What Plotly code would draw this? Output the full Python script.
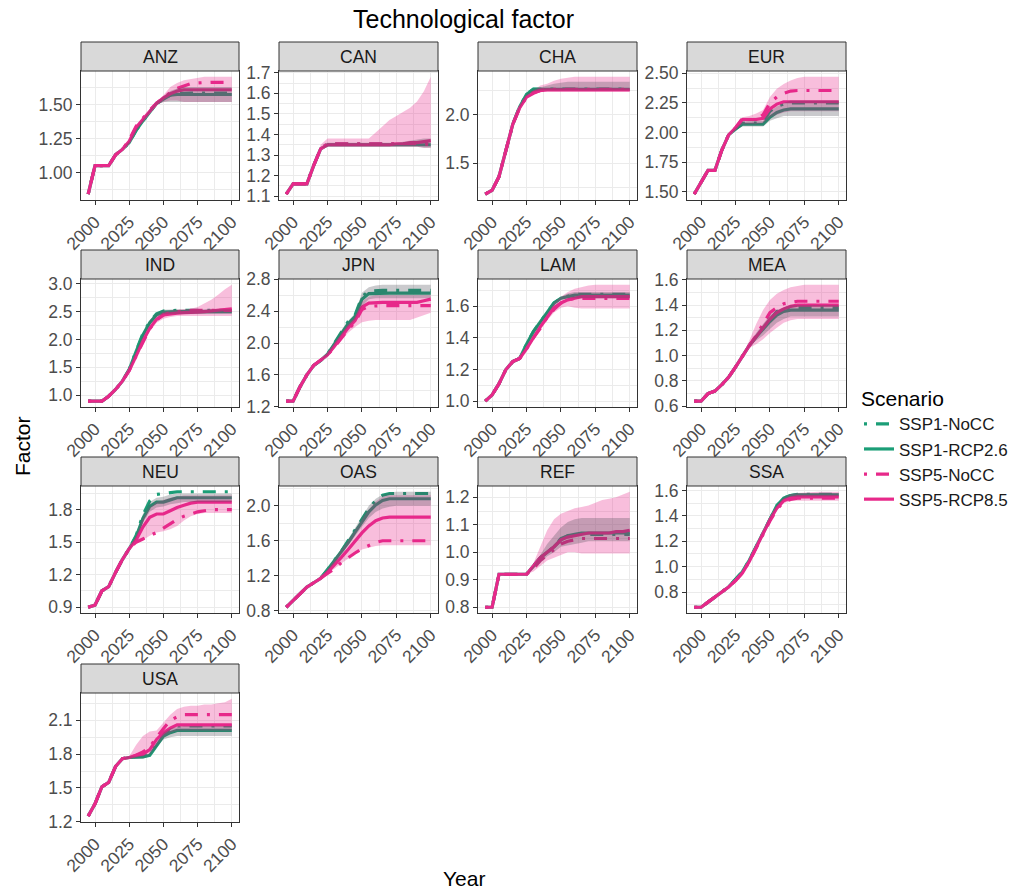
import plotly.graph_objects as go

YEARS = [1995, 2000, 2005, 2010, 2015, 2020, 2025, 2030, 2035, 2040, 2045,
         2050, 2055, 2060, 2065, 2070, 2075, 2080, 2085, 2090, 2095, 2100]
REGIONS = ["ANZ", "CAN", "CHA", "EUR", "IND", "JPN", "LAM", "MEA",
           "NEU", "OAS", "REF", "SSA", "USA"]
SCENARIOS = ["SSP1-NoCC", "SSP1-RCP2.6", "SSP5-NoCC", "SSP5-RCP8.5"]

# ---------------- ANZ ----------------
ANZ_SSP1_NoCC = [0.84, 1.05, 1.05, 1.05, 1.13, 1.17, 1.22, 1.31, 1.38, 1.45, 1.51, 1.54, 1.57, 1.58, 1.585, 1.585, 1.585, 1.585, 1.585, 1.585, 1.585, 1.585]
ANZ_SSP1_RCP26 = [0.84, 1.05, 1.05, 1.05, 1.13, 1.17, 1.22, 1.31, 1.38, 1.45, 1.51, 1.54, 1.57, 1.575, 1.575, 1.575, 1.575, 1.575, 1.575, 1.575, 1.575, 1.575]
ANZ_SSP5_NoCC = [0.84, 1.05, 1.05, 1.05, 1.13, 1.17, 1.24, 1.34, 1.40, 1.46, 1.51, 1.55, 1.59, 1.62, 1.64, 1.655, 1.66, 1.665, 1.665, 1.665, 1.665, 1.665]
ANZ_SSP5_RCP85 = [0.84, 1.05, 1.05, 1.05, 1.13, 1.17, 1.23, 1.33, 1.39, 1.45, 1.51, 1.55, 1.58, 1.60, 1.61, 1.61, 1.61, 1.61, 1.61, 1.61, 1.61, 1.61]
ANZ_SSP1_LO = [0.84, 1.05, 1.05, 1.05, 1.13, 1.17, 1.21, 1.30, 1.37, 1.44, 1.50, 1.52, 1.52, 1.52, 1.52, 1.52, 1.52, 1.52, 1.52, 1.52, 1.52, 1.52]
ANZ_SSP1_HI = [0.84, 1.05, 1.05, 1.05, 1.13, 1.17, 1.23, 1.32, 1.39, 1.46, 1.52, 1.56, 1.60, 1.62, 1.63, 1.63, 1.63, 1.63, 1.63, 1.63, 1.63, 1.63]
ANZ_SSP5_LO = [0.84, 1.05, 1.05, 1.05, 1.13, 1.17, 1.22, 1.31, 1.38, 1.44, 1.50, 1.52, 1.53, 1.53, 1.52, 1.52, 1.52, 1.52, 1.52, 1.52, 1.52, 1.52]
ANZ_SSP5_HI = [0.84, 1.05, 1.05, 1.05, 1.13, 1.17, 1.24, 1.35, 1.41, 1.47, 1.52, 1.57, 1.63, 1.66, 1.68, 1.69, 1.70, 1.705, 1.705, 1.705, 1.705, 1.705]
ANZ_TICKS = ["1.00", "1.25", "1.50"]

# ---------------- CAN ----------------
CAN_SSP1_NoCC = [1.11, 1.16, 1.16, 1.16, 1.25, 1.33, 1.355, 1.355, 1.355, 1.355, 1.355, 1.355, 1.355, 1.355, 1.355, 1.355, 1.355, 1.355, 1.355, 1.355, 1.355, 1.355]
CAN_SSP1_RCP26 = [1.11, 1.16, 1.16, 1.16, 1.25, 1.33, 1.35, 1.35, 1.35, 1.35, 1.35, 1.35, 1.35, 1.35, 1.35, 1.35, 1.35, 1.35, 1.35, 1.35, 1.35, 1.35]
CAN_SSP5_NoCC = [1.11, 1.16, 1.16, 1.16, 1.25, 1.33, 1.355, 1.355, 1.355, 1.355, 1.355, 1.355, 1.355, 1.355, 1.355, 1.355, 1.355, 1.355, 1.355, 1.355, 1.355, 1.35]
CAN_SSP5_RCP85 = [1.11, 1.16, 1.16, 1.16, 1.25, 1.33, 1.35, 1.35, 1.35, 1.35, 1.35, 1.35, 1.35, 1.35, 1.35, 1.35, 1.355, 1.355, 1.36, 1.36, 1.365, 1.37]
CAN_SSP1_LO = [1.11, 1.16, 1.16, 1.16, 1.25, 1.33, 1.34, 1.34, 1.34, 1.34, 1.34, 1.34, 1.34, 1.34, 1.34, 1.34, 1.34, 1.34, 1.34, 1.34, 1.335, 1.335]
CAN_SSP1_HI = [1.11, 1.16, 1.16, 1.16, 1.25, 1.33, 1.36, 1.36, 1.36, 1.36, 1.36, 1.36, 1.36, 1.36, 1.36, 1.36, 1.36, 1.365, 1.37, 1.375, 1.38, 1.38]
CAN_SSP5_LO = [1.11, 1.16, 1.16, 1.16, 1.25, 1.33, 1.34, 1.34, 1.34, 1.34, 1.34, 1.34, 1.34, 1.34, 1.34, 1.34, 1.34, 1.34, 1.34, 1.34, 1.335, 1.335]
CAN_SSP5_HI = [1.11, 1.16, 1.16, 1.16, 1.25, 1.35, 1.38, 1.38, 1.38, 1.38, 1.38, 1.38, 1.38, 1.41, 1.44, 1.47, 1.49, 1.51, 1.53, 1.56, 1.61, 1.68]
CAN_TICKS = ["1.1", "1.2", "1.3", "1.4", "1.5", "1.6", "1.7"]

# ---------------- CHA ----------------
CHA_SSP1_NoCC = [1.18, 1.22, 1.36, 1.62, 1.90, 2.08, 2.21, 2.265, 2.265, 2.265, 2.265, 2.265, 2.265, 2.265, 2.265, 2.265, 2.265, 2.265, 2.265, 2.265, 2.265, 2.265]
CHA_SSP1_RCP26 = [1.18, 1.22, 1.36, 1.62, 1.90, 2.08, 2.21, 2.26, 2.26, 2.26, 2.26, 2.26, 2.26, 2.26, 2.26, 2.26, 2.26, 2.26, 2.26, 2.26, 2.26, 2.26]
CHA_SSP5_NoCC = [1.18, 1.22, 1.36, 1.62, 1.90, 2.07, 2.18, 2.23, 2.25, 2.26, 2.26, 2.26, 2.26, 2.26, 2.26, 2.26, 2.26, 2.26, 2.26, 2.26, 2.26, 2.26]
CHA_SSP5_RCP85 = [1.18, 1.22, 1.36, 1.62, 1.90, 2.07, 2.18, 2.22, 2.25, 2.255, 2.255, 2.255, 2.255, 2.255, 2.255, 2.255, 2.255, 2.255, 2.255, 2.255, 2.255, 2.255]
CHA_SSP1_LO = [1.18, 1.22, 1.36, 1.62, 1.90, 2.07, 2.19, 2.24, 2.25, 2.25, 2.25, 2.25, 2.25, 2.25, 2.25, 2.25, 2.25, 2.25, 2.25, 2.25, 2.25, 2.25]
CHA_SSP1_HI = [1.18, 1.22, 1.36, 1.62, 1.90, 2.09, 2.22, 2.27, 2.28, 2.30, 2.32, 2.33, 2.34, 2.34, 2.34, 2.34, 2.34, 2.34, 2.34, 2.34, 2.34, 2.34]
CHA_SSP5_LO = [1.18, 1.22, 1.36, 1.62, 1.90, 2.06, 2.17, 2.21, 2.23, 2.24, 2.24, 2.24, 2.24, 2.24, 2.24, 2.24, 2.24, 2.24, 2.24, 2.24, 2.24, 2.24]
CHA_SSP5_HI = [1.18, 1.22, 1.36, 1.62, 1.90, 2.09, 2.20, 2.25, 2.30, 2.32, 2.35, 2.37, 2.38, 2.39, 2.39, 2.39, 2.39, 2.39, 2.39, 2.39, 2.39, 2.39]
CHA_TICKS = ["1.5", "2.0"]

# ---------------- EUR ----------------
EUR_SSP1_NoCC = [1.48, 1.58, 1.68, 1.68, 1.85, 1.98, 2.03, 2.08, 2.08, 2.08, 2.09, 2.18, 2.22, 2.24, 2.25, 2.25, 2.25, 2.25, 2.25, 2.25, 2.25, 2.25]
EUR_SSP1_RCP26 = [1.48, 1.58, 1.68, 1.68, 1.85, 1.98, 2.03, 2.07, 2.07, 2.07, 2.07, 2.13, 2.17, 2.19, 2.20, 2.20, 2.20, 2.20, 2.20, 2.20, 2.20, 2.20]
EUR_SSP5_NoCC = [1.48, 1.58, 1.68, 1.68, 1.85, 1.98, 2.04, 2.12, 2.11, 2.11, 2.15, 2.25, 2.30, 2.33, 2.35, 2.355, 2.355, 2.355, 2.355, 2.355, 2.355, 2.355]
EUR_SSP5_RCP85 = [1.48, 1.58, 1.68, 1.68, 1.85, 1.98, 2.04, 2.11, 2.11, 2.11, 2.12, 2.20, 2.24, 2.26, 2.26, 2.26, 2.26, 2.26, 2.26, 2.26, 2.26, 2.26]
EUR_SSP1_LO = [1.48, 1.58, 1.68, 1.68, 1.85, 1.98, 2.02, 2.05, 2.05, 2.05, 2.05, 2.10, 2.12, 2.14, 2.14, 2.14, 2.14, 2.14, 2.14, 2.14, 2.14, 2.14]
EUR_SSP1_HI = [1.48, 1.58, 1.68, 1.68, 1.85, 1.98, 2.04, 2.09, 2.10, 2.10, 2.10, 2.18, 2.22, 2.25, 2.27, 2.27, 2.27, 2.27, 2.27, 2.27, 2.27, 2.27]
EUR_SSP5_LO = [1.48, 1.58, 1.68, 1.68, 1.85, 1.98, 2.03, 2.07, 2.07, 2.07, 2.08, 2.13, 2.15, 2.17, 2.18, 2.18, 2.18, 2.18, 2.18, 2.18, 2.18, 2.18]
EUR_SSP5_HI = [1.48, 1.58, 1.68, 1.68, 1.85, 1.98, 2.05, 2.13, 2.14, 2.16, 2.19, 2.30, 2.37, 2.41, 2.44, 2.46, 2.47, 2.47, 2.47, 2.47, 2.47, 2.47]
EUR_TICKS = ["1.50", "1.75", "2.00", "2.25", "2.50"]

# ---------------- IND ----------------
IND_SSP1_NoCC = [0.89, 0.89, 0.89, 0.98, 1.10, 1.25, 1.46, 1.79, 2.10, 2.32, 2.46, 2.51, 2.52, 2.52, 2.52, 2.52, 2.52, 2.52, 2.52, 2.52, 2.52, 2.52]
IND_SSP1_RCP26 = [0.89, 0.89, 0.89, 0.98, 1.10, 1.25, 1.46, 1.78, 2.08, 2.30, 2.44, 2.49, 2.50, 2.50, 2.50, 2.50, 2.50, 2.50, 2.50, 2.50, 2.50, 2.50]
IND_SSP5_NoCC = [0.89, 0.89, 0.89, 0.98, 1.10, 1.25, 1.44, 1.70, 1.96, 2.19, 2.35, 2.44, 2.48, 2.50, 2.51, 2.52, 2.52, 2.52, 2.52, 2.52, 2.52, 2.52]
IND_SSP5_RCP85 = [0.89, 0.89, 0.89, 0.98, 1.10, 1.25, 1.44, 1.70, 1.97, 2.20, 2.36, 2.44, 2.46, 2.47, 2.48, 2.48, 2.49, 2.50, 2.51, 2.52, 2.54, 2.55]
IND_SSP1_LO = [0.89, 0.89, 0.89, 0.98, 1.10, 1.25, 1.44, 1.74, 2.03, 2.26, 2.40, 2.45, 2.46, 2.46, 2.46, 2.46, 2.46, 2.46, 2.46, 2.46, 2.46, 2.46]
IND_SSP1_HI = [0.89, 0.89, 0.89, 0.98, 1.10, 1.25, 1.47, 1.81, 2.12, 2.35, 2.48, 2.53, 2.54, 2.54, 2.54, 2.54, 2.54, 2.54, 2.54, 2.54, 2.54, 2.54]
IND_SSP5_LO = [0.89, 0.89, 0.89, 0.98, 1.10, 1.25, 1.42, 1.66, 1.92, 2.14, 2.30, 2.37, 2.40, 2.42, 2.42, 2.42, 2.42, 2.42, 2.42, 2.42, 2.42, 2.42]
IND_SSP5_HI = [0.89, 0.89, 0.89, 0.98, 1.10, 1.25, 1.46, 1.74, 2.02, 2.26, 2.42, 2.50, 2.52, 2.53, 2.54, 2.55, 2.58, 2.64, 2.71, 2.80, 2.90, 2.98]
IND_TICKS = ["1.0", "1.5", "2.0", "2.5", "3.0"]

# ---------------- JPN ----------------
JPN_SSP1_NoCC = [1.27, 1.27, 1.45, 1.60, 1.72, 1.78, 1.86, 2.00, 2.14, 2.27, 2.35, 2.58, 2.65, 2.66, 2.66, 2.66, 2.66, 2.66, 2.66, 2.66, 2.66, 2.66]
JPN_SSP1_RCP26 = [1.27, 1.27, 1.45, 1.60, 1.72, 1.78, 1.86, 1.99, 2.12, 2.24, 2.33, 2.55, 2.62, 2.625, 2.625, 2.625, 2.625, 2.625, 2.625, 2.625, 2.625, 2.625]
JPN_SSP5_NoCC = [1.27, 1.27, 1.45, 1.60, 1.72, 1.78, 1.85, 1.95, 2.06, 2.17, 2.26, 2.42, 2.46, 2.47, 2.47, 2.47, 2.47, 2.47, 2.47, 2.47, 2.47, 2.47]
JPN_SSP5_RCP85 = [1.27, 1.27, 1.45, 1.60, 1.72, 1.78, 1.85, 1.96, 2.08, 2.19, 2.28, 2.45, 2.50, 2.51, 2.51, 2.51, 2.51, 2.51, 2.51, 2.51, 2.53, 2.55]
JPN_SSP1_LO = [1.27, 1.27, 1.45, 1.60, 1.72, 1.78, 1.84, 1.96, 2.09, 2.20, 2.29, 2.46, 2.55, 2.56, 2.56, 2.56, 2.56, 2.56, 2.56, 2.56, 2.56, 2.56]
JPN_SSP1_HI = [1.27, 1.27, 1.45, 1.60, 1.72, 1.78, 1.88, 2.02, 2.16, 2.28, 2.37, 2.63, 2.70, 2.72, 2.73, 2.73, 2.73, 2.73, 2.73, 2.73, 2.73, 2.73]
JPN_SSP5_LO = [1.27, 1.27, 1.45, 1.60, 1.72, 1.78, 1.83, 1.93, 2.03, 2.13, 2.20, 2.26, 2.28, 2.29, 2.29, 2.29, 2.29, 2.29, 2.29, 2.32, 2.35, 2.38]
JPN_SSP5_HI = [1.27, 1.27, 1.45, 1.60, 1.72, 1.78, 1.87, 1.99, 2.12, 2.24, 2.33, 2.52, 2.58, 2.60, 2.60, 2.60, 2.60, 2.60, 2.60, 2.60, 2.60, 2.60]
JPN_TICKS = ["1.2", "1.6", "2.0", "2.4", "2.8"]

# ---------------- LAM ----------------
LAM_SSP1_NoCC = [1.00, 1.04, 1.11, 1.20, 1.25, 1.27, 1.36, 1.44, 1.50, 1.56, 1.62, 1.65, 1.665, 1.675, 1.675, 1.675, 1.675, 1.675, 1.675, 1.675, 1.675, 1.675]
LAM_SSP1_RCP26 = [1.00, 1.04, 1.11, 1.20, 1.25, 1.27, 1.36, 1.44, 1.50, 1.56, 1.62, 1.65, 1.66, 1.67, 1.67, 1.67, 1.67, 1.67, 1.67, 1.67, 1.67, 1.67]
LAM_SSP5_NoCC = [1.00, 1.04, 1.11, 1.20, 1.25, 1.27, 1.33, 1.40, 1.46, 1.53, 1.58, 1.62, 1.64, 1.65, 1.65, 1.65, 1.65, 1.65, 1.65, 1.65, 1.65, 1.65]
LAM_SSP5_RCP85 = [1.00, 1.04, 1.11, 1.20, 1.25, 1.27, 1.33, 1.40, 1.47, 1.53, 1.59, 1.62, 1.64, 1.65, 1.66, 1.66, 1.66, 1.66, 1.66, 1.66, 1.66, 1.66]
LAM_SSP1_LO = [1.00, 1.04, 1.11, 1.20, 1.25, 1.27, 1.35, 1.43, 1.49, 1.55, 1.61, 1.64, 1.65, 1.65, 1.65, 1.65, 1.65, 1.65, 1.65, 1.65, 1.65, 1.65]
LAM_SSP1_HI = [1.00, 1.04, 1.11, 1.20, 1.25, 1.27, 1.37, 1.45, 1.51, 1.57, 1.63, 1.66, 1.68, 1.69, 1.69, 1.69, 1.69, 1.69, 1.69, 1.69, 1.69, 1.69]
LAM_SSP5_LO = [1.00, 1.04, 1.11, 1.20, 1.25, 1.27, 1.32, 1.39, 1.45, 1.51, 1.56, 1.59, 1.60, 1.59, 1.585, 1.585, 1.585, 1.585, 1.585, 1.585, 1.585, 1.585]
LAM_SSP5_HI = [1.00, 1.04, 1.11, 1.20, 1.25, 1.27, 1.34, 1.41, 1.48, 1.55, 1.62, 1.66, 1.69, 1.71, 1.72, 1.73, 1.735, 1.735, 1.735, 1.735, 1.735, 1.735]
LAM_TICKS = ["1.0", "1.2", "1.4", "1.6"]

# ---------------- MEA ----------------
MEA_SSP1_NoCC = [0.64, 0.64, 0.70, 0.72, 0.77, 0.83, 0.91, 1.00, 1.08, 1.15, 1.22, 1.29, 1.35, 1.37, 1.38, 1.38, 1.38, 1.38, 1.38, 1.38, 1.38, 1.38]
MEA_SSP1_RCP26 = [0.64, 0.64, 0.70, 0.72, 0.77, 0.83, 0.91, 1.00, 1.08, 1.15, 1.21, 1.27, 1.32, 1.35, 1.36, 1.36, 1.36, 1.36, 1.36, 1.36, 1.36, 1.36]
MEA_SSP5_NoCC = [0.64, 0.64, 0.70, 0.72, 0.77, 0.83, 0.91, 1.00, 1.08, 1.16, 1.25, 1.34, 1.38, 1.41, 1.42, 1.43, 1.43, 1.43, 1.43, 1.43, 1.43, 1.43]
MEA_SSP5_RCP85 = [0.64, 0.64, 0.70, 0.72, 0.77, 0.83, 0.91, 1.00, 1.08, 1.15, 1.22, 1.29, 1.34, 1.37, 1.39, 1.40, 1.40, 1.40, 1.40, 1.40, 1.40, 1.40]
MEA_SSP1_LO = [0.64, 0.64, 0.70, 0.72, 0.77, 0.83, 0.91, 1.00, 1.07, 1.12, 1.16, 1.21, 1.26, 1.29, 1.31, 1.31, 1.31, 1.31, 1.31, 1.31, 1.31, 1.31]
MEA_SSP1_HI = [0.64, 0.64, 0.70, 0.72, 0.77, 0.83, 0.91, 1.00, 1.09, 1.18, 1.25, 1.32, 1.36, 1.38, 1.40, 1.40, 1.40, 1.40, 1.40, 1.40, 1.40, 1.40]
MEA_SSP5_LO = [0.64, 0.64, 0.70, 0.72, 0.77, 0.83, 0.91, 1.00, 1.06, 1.09, 1.13, 1.18, 1.22, 1.26, 1.28, 1.29, 1.29, 1.29, 1.29, 1.29, 1.29, 1.29]
MEA_SSP5_HI = [0.64, 0.64, 0.70, 0.72, 0.77, 0.83, 0.91, 1.00, 1.12, 1.25, 1.36, 1.44, 1.49, 1.52, 1.54, 1.55, 1.56, 1.56, 1.56, 1.56, 1.56, 1.56]
MEA_TICKS = ["0.6", "0.8", "1.0", "1.2", "1.4", "1.6"]

# ---------------- NEU ----------------
NEU_SSP1_NoCC = [0.90, 0.92, 1.05, 1.09, 1.22, 1.34, 1.44, 1.56, 1.75, 1.88, 1.94, 1.95, 1.96, 1.965, 1.965, 1.965, 1.965, 1.965, 1.965, 1.965, 1.965, 1.965]
NEU_SSP1_RCP26 = [0.90, 0.92, 1.05, 1.09, 1.22, 1.34, 1.44, 1.55, 1.72, 1.83, 1.87, 1.87, 1.89, 1.91, 1.91, 1.91, 1.91, 1.91, 1.91, 1.91, 1.91, 1.91]
NEU_SSP5_NoCC = [0.90, 0.92, 1.05, 1.09, 1.22, 1.34, 1.44, 1.50, 1.53, 1.56, 1.59, 1.63, 1.67, 1.71, 1.74, 1.76, 1.78, 1.79, 1.80, 1.80, 1.80, 1.80]
NEU_SSP5_RCP85 = [0.90, 0.92, 1.05, 1.09, 1.22, 1.34, 1.44, 1.52, 1.64, 1.73, 1.76, 1.76, 1.79, 1.82, 1.84, 1.86, 1.87, 1.87, 1.87, 1.87, 1.87, 1.87]
NEU_SSP1_LO = [0.90, 0.92, 1.05, 1.09, 1.22, 1.34, 1.44, 1.53, 1.68, 1.78, 1.82, 1.83, 1.85, 1.86, 1.87, 1.87, 1.87, 1.87, 1.87, 1.87, 1.87, 1.87]
NEU_SSP1_HI = [0.90, 0.92, 1.05, 1.09, 1.22, 1.34, 1.44, 1.57, 1.76, 1.87, 1.91, 1.92, 1.94, 1.95, 1.95, 1.95, 1.95, 1.95, 1.95, 1.95, 1.95, 1.95]
NEU_SSP5_LO = [0.90, 0.92, 1.05, 1.09, 1.22, 1.34, 1.44, 1.49, 1.52, 1.56, 1.59, 1.60, 1.62, 1.65, 1.70, 1.74, 1.76, 1.77, 1.77, 1.77, 1.77, 1.77]
NEU_SSP5_HI = [0.90, 0.92, 1.05, 1.09, 1.22, 1.34, 1.44, 1.56, 1.72, 1.82, 1.87, 1.89, 1.91, 1.92, 1.93, 1.93, 1.93, 1.93, 1.93, 1.93, 1.93, 1.93]
NEU_TICKS = ["0.9", "1.2", "1.5", "1.8"]

# ---------------- OAS ----------------
OAS_SSP1_NoCC = [0.84, 0.92, 1.00, 1.07, 1.12, 1.17, 1.27, 1.37, 1.48, 1.60, 1.72, 1.85, 1.97, 2.06, 2.12, 2.14, 2.14, 2.14, 2.14, 2.14, 2.14, 2.14]
OAS_SSP1_RCP26 = [0.84, 0.92, 1.00, 1.07, 1.12, 1.17, 1.27, 1.37, 1.47, 1.58, 1.70, 1.82, 1.93, 2.01, 2.06, 2.08, 2.08, 2.08, 2.08, 2.08, 2.08, 2.08]
OAS_SSP5_NoCC = [0.84, 0.92, 1.00, 1.07, 1.12, 1.17, 1.22, 1.28, 1.35, 1.41, 1.46, 1.51, 1.55, 1.58, 1.60, 1.60, 1.60, 1.60, 1.60, 1.60, 1.60, 1.60]
OAS_SSP5_RCP85 = [0.84, 0.92, 1.00, 1.07, 1.12, 1.17, 1.24, 1.32, 1.41, 1.50, 1.60, 1.69, 1.77, 1.83, 1.86, 1.87, 1.87, 1.87, 1.87, 1.87, 1.87, 1.87]
OAS_SSP1_LO = [0.84, 0.92, 1.00, 1.07, 1.12, 1.17, 1.26, 1.34, 1.44, 1.54, 1.65, 1.76, 1.86, 1.93, 1.97, 1.99, 2.00, 2.00, 2.00, 2.00, 2.00, 2.00]
OAS_SSP1_HI = [0.84, 0.92, 1.00, 1.07, 1.12, 1.17, 1.28, 1.40, 1.51, 1.62, 1.75, 1.88, 2.00, 2.08, 2.13, 2.15, 2.16, 2.16, 2.16, 2.16, 2.16, 2.16]
OAS_SSP5_LO = [0.84, 0.92, 1.00, 1.07, 1.12, 1.17, 1.22, 1.28, 1.34, 1.40, 1.45, 1.50, 1.52, 1.54, 1.55, 1.55, 1.55, 1.55, 1.55, 1.55, 1.55, 1.55]
OAS_SSP5_HI = [0.84, 0.92, 1.00, 1.07, 1.12, 1.17, 1.28, 1.38, 1.49, 1.60, 1.72, 1.85, 1.96, 2.05, 2.10, 2.12, 2.12, 2.12, 2.12, 2.12, 2.12, 2.12]
OAS_TICKS = ["0.8", "1.2", "1.6", "2.0"]

# ---------------- REF ----------------
REF_SSP1_NoCC = [0.80, 0.80, 0.92, 0.92, 0.92, 0.92, 0.92, 0.95, 0.98, 1.00, 1.02, 1.05, 1.06, 1.065, 1.065, 1.065, 1.065, 1.065, 1.065, 1.065, 1.065, 1.065]
REF_SSP1_RCP26 = [0.80, 0.80, 0.92, 0.92, 0.92, 0.92, 0.92, 0.95, 0.98, 1.00, 1.02, 1.045, 1.06, 1.065, 1.07, 1.07, 1.07, 1.07, 1.07, 1.07, 1.07, 1.07]
REF_SSP5_NoCC = [0.80, 0.80, 0.92, 0.92, 0.92, 0.92, 0.92, 0.94, 0.97, 0.99, 1.01, 1.03, 1.04, 1.045, 1.05, 1.05, 1.05, 1.05, 1.05, 1.05, 1.05, 1.05]
REF_SSP5_RCP85 = [0.80, 0.80, 0.92, 0.92, 0.92, 0.92, 0.92, 0.95, 0.98, 1.00, 1.02, 1.045, 1.055, 1.06, 1.065, 1.07, 1.07, 1.07, 1.07, 1.075, 1.075, 1.08]
REF_SSP1_LO = [0.80, 0.80, 0.92, 0.92, 0.92, 0.92, 0.92, 0.94, 0.96, 0.985, 1.00, 1.02, 1.025, 1.03, 1.035, 1.04, 1.04, 1.04, 1.04, 1.04, 1.04, 1.04]
REF_SSP1_HI = [0.80, 0.80, 0.92, 0.92, 0.92, 0.92, 0.92, 0.95, 0.99, 1.03, 1.06, 1.09, 1.11, 1.12, 1.125, 1.125, 1.125, 1.125, 1.125, 1.125, 1.125, 1.125]
REF_SSP5_LO = [0.80, 0.80, 0.92, 0.92, 0.92, 0.92, 0.92, 0.93, 0.95, 0.97, 0.98, 0.99, 1.00, 1.00, 0.995, 0.995, 0.995, 0.995, 0.995, 0.995, 0.995, 0.995]
REF_SSP5_HI = [0.80, 0.80, 0.92, 0.92, 0.92, 0.92, 0.92, 0.96, 1.02, 1.08, 1.12, 1.14, 1.15, 1.16, 1.165, 1.17, 1.18, 1.19, 1.195, 1.20, 1.21, 1.22]
REF_TICKS = ["0.8", "0.9", "1.0", "1.1", "1.2"]

# ---------------- SSA ----------------
SSA_SSP1_NoCC = [0.68, 0.68, 0.72, 0.76, 0.80, 0.84, 0.90, 0.96, 1.05, 1.16, 1.27, 1.38, 1.48, 1.54, 1.56, 1.57, 1.57, 1.57, 1.57, 1.57, 1.57, 1.57]
SSA_SSP1_RCP26 = [0.68, 0.68, 0.72, 0.76, 0.80, 0.84, 0.90, 0.96, 1.05, 1.16, 1.27, 1.38, 1.48, 1.54, 1.56, 1.565, 1.565, 1.565, 1.565, 1.565, 1.565, 1.565]
SSA_SSP5_NoCC = [0.68, 0.68, 0.72, 0.76, 0.80, 0.84, 0.89, 0.95, 1.04, 1.15, 1.26, 1.36, 1.45, 1.51, 1.53, 1.54, 1.54, 1.54, 1.54, 1.54, 1.54, 1.54]
SSA_SSP5_RCP85 = [0.68, 0.68, 0.72, 0.76, 0.80, 0.84, 0.89, 0.95, 1.04, 1.15, 1.26, 1.37, 1.46, 1.52, 1.54, 1.55, 1.55, 1.55, 1.55, 1.55, 1.55, 1.55]
SSA_SSP1_LO = [0.68, 0.68, 0.72, 0.76, 0.80, 0.84, 0.90, 0.96, 1.05, 1.16, 1.27, 1.37, 1.47, 1.53, 1.55, 1.555, 1.555, 1.555, 1.555, 1.555, 1.555, 1.555]
SSA_SSP1_HI = [0.68, 0.68, 0.72, 0.76, 0.80, 0.84, 0.90, 0.96, 1.05, 1.16, 1.27, 1.39, 1.49, 1.55, 1.57, 1.58, 1.58, 1.58, 1.58, 1.58, 1.58, 1.58]
SSA_SSP5_LO = [0.68, 0.68, 0.72, 0.76, 0.80, 0.84, 0.89, 0.95, 1.04, 1.15, 1.26, 1.35, 1.44, 1.50, 1.52, 1.52, 1.52, 1.52, 1.52, 1.52, 1.52, 1.52]
SSA_SSP5_HI = [0.68, 0.68, 0.72, 0.76, 0.80, 0.84, 0.90, 0.96, 1.05, 1.16, 1.27, 1.38, 1.48, 1.54, 1.57, 1.58, 1.585, 1.59, 1.59, 1.59, 1.59, 1.59]
SSA_TICKS = ["0.8", "1.0", "1.2", "1.4", "1.6"]

# ---------------- USA ----------------
USA_SSP1_NoCC = [1.25, 1.36, 1.51, 1.55, 1.69, 1.76, 1.77, 1.78, 1.79, 1.81, 1.90, 1.98, 2.02, 2.05, 2.05, 2.05, 2.05, 2.05, 2.05, 2.05, 2.05, 2.05]
USA_SSP1_RCP26 = [1.25, 1.36, 1.51, 1.55, 1.69, 1.76, 1.77, 1.77, 1.775, 1.79, 1.88, 1.96, 1.99, 2.01, 2.01, 2.01, 2.01, 2.01, 2.01, 2.01, 2.01, 2.01]
USA_SSP5_NoCC = [1.25, 1.36, 1.51, 1.55, 1.69, 1.76, 1.77, 1.79, 1.82, 1.86, 1.95, 2.03, 2.10, 2.13, 2.15, 2.15, 2.15, 2.15, 2.15, 2.15, 2.15, 2.15]
USA_SSP5_RCP85 = [1.25, 1.36, 1.51, 1.55, 1.69, 1.76, 1.77, 1.79, 1.80, 1.84, 1.93, 1.99, 2.03, 2.06, 2.06, 2.06, 2.06, 2.06, 2.06, 2.06, 2.06, 2.06]
USA_SSP1_LO = [1.25, 1.36, 1.51, 1.55, 1.69, 1.76, 1.76, 1.76, 1.76, 1.78, 1.86, 1.93, 1.95, 1.96, 1.96, 1.96, 1.96, 1.96, 1.96, 1.96, 1.96, 1.96]
USA_SSP1_HI = [1.25, 1.36, 1.51, 1.55, 1.69, 1.76, 1.78, 1.78, 1.79, 1.80, 1.90, 1.99, 2.03, 2.04, 2.05, 2.05, 2.05, 2.05, 2.05, 2.05, 2.05, 2.05]
USA_SSP5_LO = [1.25, 1.36, 1.51, 1.55, 1.69, 1.76, 1.77, 1.77, 1.78, 1.80, 1.88, 1.95, 1.99, 2.01, 2.01, 2.01, 2.01, 2.01, 2.01, 2.01, 2.01, 2.01]
USA_SSP5_HI = [1.25, 1.36, 1.51, 1.55, 1.69, 1.76, 1.78, 1.88, 1.96, 2.00, 2.01, 2.08, 2.15, 2.20, 2.22, 2.23, 2.23, 2.24, 2.24, 2.25, 2.26, 2.29]
USA_TICKS = ["1.2", "1.5", "1.8", "2.1"]

X_TICKS = ["2000", "2025", "2050", "2075", "2100"]

# ---------------- styling ----------------
W, H = 1018, 893
FONT = "Liberation Sans, Arial, Helvetica, sans-serif"
TEAL = "#1b9e77"
PINK = "#e7298a"
LINE_STYLE = {
    "SSP1-NoCC": dict(color=TEAL, dash="3px,9px,13px,9px"),
    "SSP1-RCP2.6": dict(color=TEAL, dash="solid"),
    "SSP5-NoCC": dict(color=PINK, dash="3px,9px,13px,9px"),
    "SSP5-RCP8.5": dict(color=PINK, dash="solid"),
}
PINK_FILL = "rgba(231,41,138,0.30)"
GREY_FILL = "rgba(80,78,90,0.30)"

COLS = [(81, 239), (279, 438), (478, 637), (687, 846)]
ROWS = [(71, 200), (279, 407), (486, 613), (693, 822)]
STRIP_H = 29
TICK_SIZE = 17.5

g = globals()
fig = go.Figure()
shapes = []
annotations = []
layout = {}

for i, reg in enumerate(REGIONS):
    r, c = divmod(i, 4)
    suf = "" if i == 0 else str(i + 1)
    xa, ya = "x" + suf, "y" + suf
    lines = {
        "SSP1-NoCC": g[reg + "_SSP1_NoCC"],
        "SSP1-RCP2.6": g[reg + "_SSP1_RCP26"],
        "SSP5-NoCC": g[reg + "_SSP5_NoCC"],
        "SSP5-RCP8.5": g[reg + "_SSP5_RCP85"],
    }
    s1lo, s1hi = g[reg + "_SSP1_LO"], g[reg + "_SSP1_HI"]
    s5lo, s5hi = g[reg + "_SSP5_LO"], g[reg + "_SSP5_HI"]
    for arr in list(lines.values()) + [s1lo, s1hi, s5lo, s5hi]:
        assert len(arr) == len(YEARS), reg

    for sc in SCENARIOS:
        st = LINE_STYLE[sc]
        fig.add_trace(go.Scatter(
            x=YEARS, y=lines[sc], mode="lines", name=sc,
            line=dict(color=st["color"], dash=st["dash"], width=3.2),
            xaxis=xa, yaxis=ya, showlegend=(i == 0), legendgroup=sc,
            hoverinfo="skip"))
    for lo, hi, fc in [(s5lo, s5hi, PINK_FILL), (s1lo, s1hi, GREY_FILL)]:
        fig.add_trace(go.Scatter(
            x=YEARS + YEARS[::-1], y=hi + lo[::-1], mode="lines",
            fill="toself", fillcolor=fc, line=dict(width=0),
            xaxis=xa, yaxis=ya, showlegend=False, hoverinfo="skip"))

    allv = [v for arr in list(lines.values()) + [s1lo, s1hi, s5lo, s5hi] for v in arr]
    vmin, vmax = min(allv), max(allv)
    span = vmax - vmin
    yr = [vmin - 0.05 * span, vmax + 0.05 * span]
    ticks = g[reg + "_TICKS"]
    tv = [float(t) for t in ticks]
    step = tv[1] - tv[0]
    minor = [tv[0] - step / 2] + [t + step / 2 for t in tv]
    minor = [m for m in minor if yr[0] <= m <= yr[1]]

    x0, x1 = COLS[c]
    y0, y1 = ROWS[r]
    common = dict(showline=True, mirror=True, linecolor="#333333", linewidth=1,
                  ticks="outside", ticklen=4, tickcolor="#333333", tickwidth=1,
                  tickfont=dict(family=FONT, size=TICK_SIZE, color="#4d4d4d"),
                  showgrid=True, gridcolor="#ebebeb", gridwidth=1.3,
                  zeroline=False, fixedrange=True, automargin=False)
    layout["xaxis" + suf] = dict(
        common, domain=[x0 / W, x1 / W], anchor=ya,
        range=[1989.75, 2105.25], tickmode="array",
        tickvals=[float(t) for t in X_TICKS], ticktext=X_TICKS, tickangle=-45,
        minor=dict(tickvals=[2012.5, 2037.5, 2062.5, 2087.5], showgrid=True,
                   gridcolor="#ebebeb", gridwidth=0.65, ticks=""))
    layout["yaxis" + suf] = dict(
        common, domain=[1 - y1 / H, 1 - y0 / H], anchor=xa,
        range=yr, tickmode="array", tickvals=tv, ticktext=ticks,
        minor=dict(tickvals=minor, showgrid=True, gridcolor="#ebebeb",
                   gridwidth=0.65, ticks=""))

    # facet strip
    shapes.append(dict(type="rect", xref="paper", yref="paper",
                       x0=x0 / W, x1=x1 / W, y0=1 - y0 / H, y1=1 - (y0 - STRIP_H) / H,
                       fillcolor="#d9d9d9", line=dict(color="#333333", width=1),
                       layer="above"))
    annotations.append(dict(text=reg, xref="paper", yref="paper",
                            x=(x0 + x1) / 2 / W, y=1 - (y0 - STRIP_H / 2) / H,
                            showarrow=False, xanchor="center", yanchor="middle",
                            font=dict(family=FONT, size=TICK_SIZE, color="#1a1a1a")))

annotations += [
    dict(text="Technological factor", xref="paper", yref="paper",
         x=463.5 / W, y=1 - 19 / H, showarrow=False, xanchor="center",
         yanchor="middle", font=dict(family=FONT, size=25, color="black")),
    dict(text="Factor", xref="paper", yref="paper", x=22 / W, y=1 - 446 / H,
         showarrow=False, textangle=-90, xanchor="center", yanchor="middle",
         font=dict(family=FONT, size=21, color="black")),
    dict(text="Year", xref="paper", yref="paper", x=463.5 / W, y=1 - 878 / H,
         showarrow=False, xanchor="center", yanchor="middle",
         font=dict(family=FONT, size=21, color="black")),
]

fig.update_layout(
    width=W, height=H, margin=dict(l=0, r=0, t=0, b=0, autoexpand=False),
    paper_bgcolor="white", plot_bgcolor="white",
    shapes=shapes, annotations=annotations,
    legend=dict(x=859 / W, xanchor="left", y=1 - 379 / H, yanchor="top",
                font=dict(family=FONT, size=17, color="#1a1a1a"),
                title=dict(text="Scenario", font=dict(family=FONT, size=21, color="black")),
                bgcolor="rgba(0,0,0,0)", tracegroupgap=0, itemwidth=30),
    **layout,
)

fig.write_html("out.html")
